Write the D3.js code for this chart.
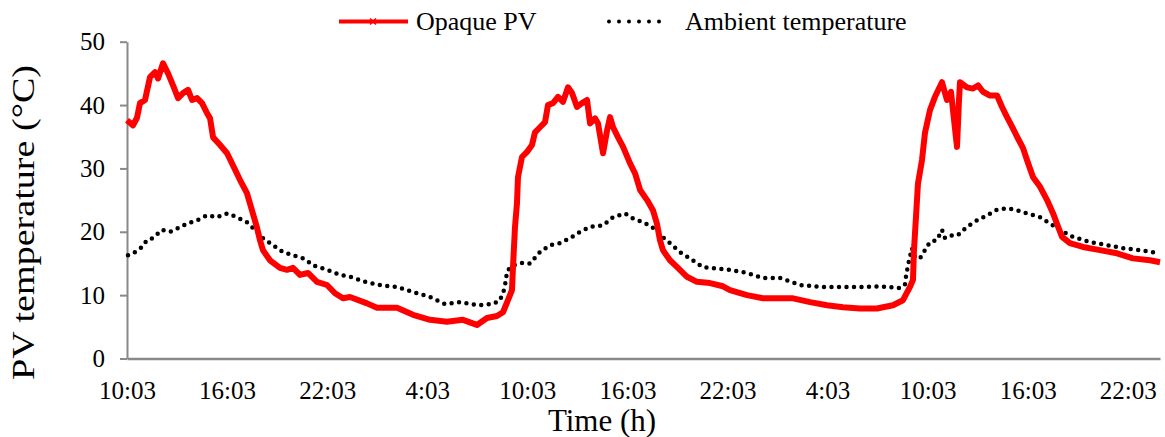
<!DOCTYPE html>
<html>
<head>
<meta charset="utf-8">
<script src="https://cdn.jsdelivr.net/npm/d3@7"></script>
<style>
    body { margin: 0; background: #fff; }
    text { font-family: "Liberation Serif", "Times New Roman", serif; fill: #000; }
</style>
</head>
<body>
<div id="chart-area"></div>
<script>
// Hours since 10:03 on day 1, temperature in degC
const pvTime = [0.00, 0.36, 0.60, 0.78, 1.08, 1.38, 1.68, 1.86, 2.16, 2.46, 2.76, 3.06, 3.36, 3.66, 3.90, 4.20, 4.50, 4.80, 4.98, 5.16,
    5.58, 6.00, 6.35, 6.77, 7.19, 7.49, 7.79, 7.97, 8.15, 8.57, 9.17, 9.59, 9.95, 10.37, 10.85, 11.39, 11.99, 12.47, 12.95, 13.37,
    14.39, 14.99, 16.19, 17.15, 18.17, 19.18, 20.14, 20.98, 21.58, 22.18, 22.54, 22.84, 23.08, 23.14, 23.26, 23.38, 23.44, 23.68, 23.98, 24.28,
    24.46, 24.76, 25.06, 25.24, 25.54, 25.84, 26.14, 26.44, 26.68, 26.98, 27.28, 27.58, 27.76, 28.06, 28.24, 28.54, 28.78, 28.96, 29.14, 29.44,
    29.74, 30.16, 30.46, 30.76, 31.18, 31.53, 31.77, 31.95, 32.13, 32.55, 33.03, 33.57, 34.17, 34.95, 35.73, 36.15, 37.17, 38.13, 38.97, 39.93,
    40.95, 41.97, 42.93, 43.94, 44.96, 45.92, 46.52, 46.94, 47.12, 47.18, 47.30, 47.42, 47.66, 47.84, 48.14, 48.44, 48.86, 49.16, 49.40, 49.52,
    49.76, 49.88, 49.94, 50.36, 50.72, 51.02, 51.32, 51.74, 52.16, 52.46, 52.76, 53.06, 53.36, 53.72, 53.96, 54.32, 54.74, 55.16, 55.52, 55.82,
    56.06, 56.53, 57.31, 58.33, 59.35, 60.31, 61.33, 61.93];
const pvTemp = [37.6, 36.8, 38.0, 40.3, 40.8, 44.4, 45.2, 44.2, 46.6, 45.0, 43.1, 41.1, 41.9, 42.4, 40.8, 41.1, 40.3, 38.7, 37.9, 34.9,
    33.7, 32.4, 30.5, 28.2, 26.1, 23.4, 20.7, 18.7, 17.1, 15.5, 14.3, 14.0, 14.3, 13.2, 13.5, 12.1, 11.6, 10.3, 9.5, 9.7,
    8.7, 8.0, 8.0, 6.9, 6.1, 5.8, 6.1, 5.3, 6.4, 6.7, 7.3, 9.2, 10.8, 14.4, 20.7, 24.5, 28.6, 31.8, 32.6, 33.7,
    35.7, 36.5, 37.3, 40.0, 40.3, 41.3, 40.5, 42.8, 41.9, 39.7, 40.3, 40.8, 37.1, 37.9, 37.1, 32.4, 36.0, 38.1, 36.5, 34.9,
    33.4, 30.8, 29.2, 26.6, 25.0, 23.4, 21.3, 18.7, 17.1, 15.5, 14.3, 12.9, 12.1, 11.9, 11.4, 10.8, 10.0, 9.5, 9.5, 9.5,
    8.9, 8.4, 8.1, 7.9, 7.9, 8.4, 9.2, 11.3, 12.4, 17.1, 22.3, 27.6, 31.3, 35.6, 39.2, 41.3, 43.6, 40.8, 42.1, 39.2,
    33.4, 40.8, 43.6, 42.8, 42.6, 43.1, 42.1, 41.5, 41.5, 39.7, 38.1, 36.6, 35.0, 33.2, 31.3, 28.6, 27.1, 25.0, 22.9, 20.8,
    19.2, 18.2, 17.6, 17.1, 16.6, 15.8, 15.5, 15.2];

const ambTime = [0.06, 0.48, 0.90, 1.20, 1.56, 2.10, 2.58, 3.00, 3.60, 4.20, 4.80, 5.40, 6.00, 6.59, 7.19, 7.79, 8.15, 8.75, 9.35, 9.95,
    10.67, 11.15, 11.99, 12.77, 13.37, 14.39, 15.35, 16.19, 17.15, 18.17, 19.06, 19.96, 21.04, 21.94, 22.36, 22.60, 22.72, 22.78, 23.14, 23.74,
    24.16, 24.76, 25.36, 25.96, 26.56, 27.16, 27.76, 28.54, 29.14, 29.86, 30.34, 30.94, 31.47, 31.95, 32.55, 33.15, 33.75, 34.53, 35.37, 36.15,
    37.17, 38.13, 39.15, 40.35, 41.55, 42.75, 44.12, 45.14, 46.34, 46.64, 46.70, 46.82, 47.06, 47.24, 47.54, 47.84, 48.14, 48.56, 48.86, 49.04,
    49.52, 49.82, 50.36, 50.96, 51.56, 52.16, 52.76, 53.36, 53.96, 54.74, 55.34, 55.94, 56.71, 57.73, 58.75, 59.71, 60.73, 61.93];
const ambTemp = [16.3, 16.8, 17.6, 18.7, 19.0, 20.3, 20.0, 20.5, 21.3, 21.8, 22.6, 22.3, 22.9, 22.3, 21.5, 20.0, 19.0, 17.9, 16.8, 16.3,
    15.7, 14.7, 14.0, 13.2, 12.9, 12.0, 11.5, 11.3, 10.5, 9.7, 8.6, 8.9, 8.4, 8.6, 9.2, 10.8, 12.4, 13.8, 14.7, 15.1,
    15.0, 16.8, 17.9, 18.2, 19.0, 20.0, 20.8, 21.0, 22.3, 22.9, 22.1, 21.5, 20.8, 19.5, 18.2, 16.8, 15.8, 14.4, 14.2, 14.0,
    13.5, 12.7, 12.7, 11.6, 11.3, 11.3, 11.3, 11.4, 11.1, 11.7, 12.9, 14.7, 17.4, 16.0, 15.8, 17.1, 18.4, 18.7, 20.3, 19.0,
    19.5, 19.5, 20.8, 21.8, 22.6, 23.5, 23.7, 23.4, 22.9, 22.3, 21.3, 20.3, 19.2, 18.4, 17.9, 17.4, 17.1, 16.6];

const tickHours = [0, 6, 12, 18, 24, 30, 36, 42, 48, 54, 60];
const tickLabels = ["10:03", "16:03", "22:03", "4:03", "10:03", "16:03", "22:03", "4:03", "10:03", "16:03", "22:03"];
const yTicks = [0, 10, 20, 30, 40, 50];

// SVG size
let margin = {top: 41.7, right: 5, bottom: 78.5, left: 127};
let width = 1165 - margin.left - margin.right;
let height = 437 - margin.top - margin.bottom;
const axisColor = "#898989";

const root = d3.select("div#chart-area").append("svg")
    .attr("width", 1165)
    .attr("height", 437);

const svg = root.append("g")
    .attr("transform", "translate(" + margin.left + "," + margin.top + ")");

const pvData = pvTime.map((t, i) => ({t: t, v: pvTemp[i]}));
const ambData = ambTime.map((t, i) => ({t: t, v: ambTemp[i]}));

// scales
const xScale = d3.scaleLinear()
    .domain([0, d3.max(pvTime)])
    .range([0, width]);

const yScale = d3.scaleLinear()
    .domain([0, 50])
    .range([height, 0]);

// y-axis
const yAxisG = svg.append("g")
    .attr("class", "y-axis")
    .call(d3.axisLeft(yScale).tickValues(yTicks).tickSize(7).tickSizeOuter(0).tickPadding(15));
yAxisG.select(".domain").attr("stroke", axisColor).attr("stroke-width", 2);
yAxisG.selectAll(".tick line").attr("stroke", axisColor).attr("stroke-width", 2);
yAxisG.selectAll(".tick text")
    .attr("fill", "#000")
    .style("font-size", "25px")
    .style("font-family", '"Liberation Serif", "Times New Roman", serif');

// x-axis
const xAxisG = svg.append("g")
    .attr("class", "x-axis")
    .attr("transform", "translate(0," + height + ")")
    .call(d3.axisBottom(xScale).tickValues(tickHours).tickSize(0).tickSizeOuter(0)
        .tickFormat((d, i) => tickLabels[i]));
xAxisG.select(".domain").attr("stroke", axisColor).attr("stroke-width", 2.5);
xAxisG.selectAll(".tick text")
    .attr("y", 40.5)
    .attr("dy", 0)
    .attr("fill", "#000")
    .style("font-size", "25px")
    .style("font-family", '"Liberation Serif", "Times New Roman", serif');

// axis titles
root.append("text")
    .attr("x", 602)
    .attr("y", 431)
    .attr("text-anchor", "middle")
    .style("font-size", "31px")
    .text("Time (h)");

root.append("text")
    .attr("transform", "translate(34,222.5) rotate(-90)")
    .attr("text-anchor", "middle")
    .attr("textLength", 315)
    .attr("lengthAdjust", "spacingAndGlyphs")
    .style("font-size", "31px")
    .text("PV temperature (°C)");

// lines
const line = d3.line()
    .x(d => xScale(d.t))
    .y(d => yScale(d.v));

svg.append("path")
    .datum(ambData)
    .attr("fill", "none")
    .attr("stroke", "#000")
    .attr("stroke-width", 4.5)
    .attr("stroke-linecap", "round")
    .attr("stroke-dasharray", "0,7.5")
    .attr("d", line);

svg.append("path")
    .datum(pvData)
    .attr("fill", "none")
    .attr("stroke", "#ff0000")
    .attr("stroke-width", 6)
    .attr("stroke-linejoin", "round")
    .attr("d", line);

// legend
const legend = root.append("g").attr("class", "legend");

legend.append("line")
    .attr("x1", 339).attr("x2", 408)
    .attr("y1", 21.5).attr("y2", 21.5)
    .attr("stroke", "#ff0000")
    .attr("stroke-width", 4);
legend.append("path")
    .attr("d", "M370,18.5L376,24.5M370,24.5L376,18.5")
    .attr("stroke", "#ff0000")
    .attr("stroke-width", 1.5);
legend.append("text")
    .attr("x", 416).attr("y", 30)
    .style("font-size", "26px")
    .text("Opaque PV");

legend.append("line")
    .attr("x1", 609).attr("x2", 669)
    .attr("y1", 21.5).attr("y2", 21.5)
    .attr("stroke", "#000")
    .attr("stroke-width", 4)
    .attr("stroke-linecap", "round")
    .attr("stroke-dasharray", "0,10");
legend.append("text")
    .attr("x", 685).attr("y", 30)
    .style("font-size", "26px")
    .text("Ambient temperature");
</script>
</body>
</html>
